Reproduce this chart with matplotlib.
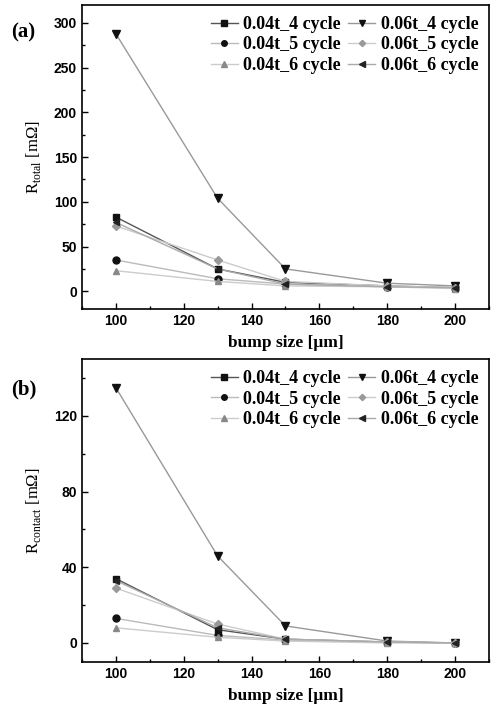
import numpy as np
import matplotlib
matplotlib.use('Agg')
import matplotlib.pyplot as plt
from matplotlib.ticker import MultipleLocator

# bump size (um)
bump = [100, 130, 150, 180, 200]

labels = ['0.04t_4 cycle', '0.04t_5 cycle', '0.04t_6 cycle',
          '0.06t_4 cycle', '0.06t_5 cycle', '0.06t_6 cycle']

# (a) total resistance (mOhm)
r_total_004_4 = [83, 25, 10, 6, 4]
r_total_004_5 = [35, 14, 8, 5, 4]
r_total_004_6 = [23, 11, 6, 5, 3]
r_total_006_4 = [288, 104, 25, 9, 6]
r_total_006_5 = [73, 35, 11, 6, 4]
r_total_006_6 = [77, 25, 8, 5, 4]

# (b) contact resistance (mOhm)
r_contact_004_4 = [34, 7, 2, 0.5, 0]
r_contact_004_5 = [13, 4, 1.5, 0.5, 0]
r_contact_004_6 = [8, 3, 1, 0, 0]
r_contact_006_4 = [135, 46, 9, 1, 0]
r_contact_006_5 = [29, 10, 2, 0.5, 0]
r_contact_006_6 = [33, 8, 2, 0.5, 0]

markers = ['s', 'o', '^', 'v', 'D', '<']
msizes = [5, 5, 5, 6, 4, 5]
mcolors = ['#111111', '#111111', '#888888', '#111111', '#999999', '#222222']
lcolors = ['#555555', '#bbbbbb', '#cccccc', '#999999', '#cccccc', '#aaaaaa']

serif = 'Liberation Serif'
sans = 'Liberation Sans'

plt.rcParams['font.family'] = sans
plt.rcParams['font.weight'] = 'bold'
plt.rcParams['xtick.labelsize'] = 10
plt.rcParams['ytick.labelsize'] = 10

fig = plt.figure(figsize=(4.96, 7.14), dpi=100)
ax_a = fig.add_axes([0.165, 0.567, 0.821, 0.426])
ax_b = fig.add_axes([0.165, 0.073, 0.821, 0.424])


def draw(ax, series, ylim, ymaj, ymin, ylabel):
    for y, lab, m, ms, mc, lc in zip(series, labels, markers, msizes, mcolors, lcolors):
        ax.plot(bump, y, color=lc, lw=1.0, marker=m, ms=ms, mfc=mc, mec=mc, label=lab)
    ax.set_xlim(90, 210)
    ax.set_ylim(*ylim)
    ax.xaxis.set_major_locator(MultipleLocator(20))
    ax.xaxis.set_minor_locator(MultipleLocator(10))
    ax.yaxis.set_major_locator(MultipleLocator(ymaj))
    ax.yaxis.set_minor_locator(MultipleLocator(ymin))
    ax.tick_params(which='both', direction='in', top=False, right=False)
    ax.tick_params(which='major', length=4, width=1)
    ax.tick_params(which='minor', length=2, width=1)
    for s in ax.spines.values():
        s.set_linewidth(1.2)
    ax.set_xlabel('bump size [μm]', fontfamily=serif, fontweight='bold', fontsize=12.5, labelpad=5)
    ax.set_ylabel(ylabel, fontfamily=serif, fontweight='normal', fontsize=12, labelpad=8)
    ax.legend(ncol=2, loc='upper right', frameon=False,
              prop={'family': serif, 'weight': 'bold', 'size': 13},
              handlelength=1.5, handletextpad=0.3, columnspacing=0.4,
              labelspacing=0.2, borderaxespad=0.2, markerscale=0.8)


draw(ax_a, [r_total_004_4, r_total_004_5, r_total_004_6,
            r_total_006_4, r_total_006_5, r_total_006_6],
     (-20, 320), 50, 25, r'R$_{\mathregular{total}}$ [mΩ]')
draw(ax_b, [r_contact_004_4, r_contact_004_5, r_contact_004_6,
            r_contact_006_4, r_contact_006_5, r_contact_006_6],
     (-10, 150), 40, 20, r'R$_{\mathregular{contact}}$ [mΩ]')

fig.canvas.draw()
for ax in (ax_a, ax_b):
    plt.setp(ax.get_xticklabels() + ax.get_yticklabels(), fontweight='bold', fontfamily=sans)

fig.text(0.022, 0.948, '(a)', fontfamily=serif, fontweight='bold', fontsize=15)
fig.text(0.022, 0.447, '(b)', fontfamily=serif, fontweight='bold', fontsize=15)

fig.savefig('out.png', dpi=100)
